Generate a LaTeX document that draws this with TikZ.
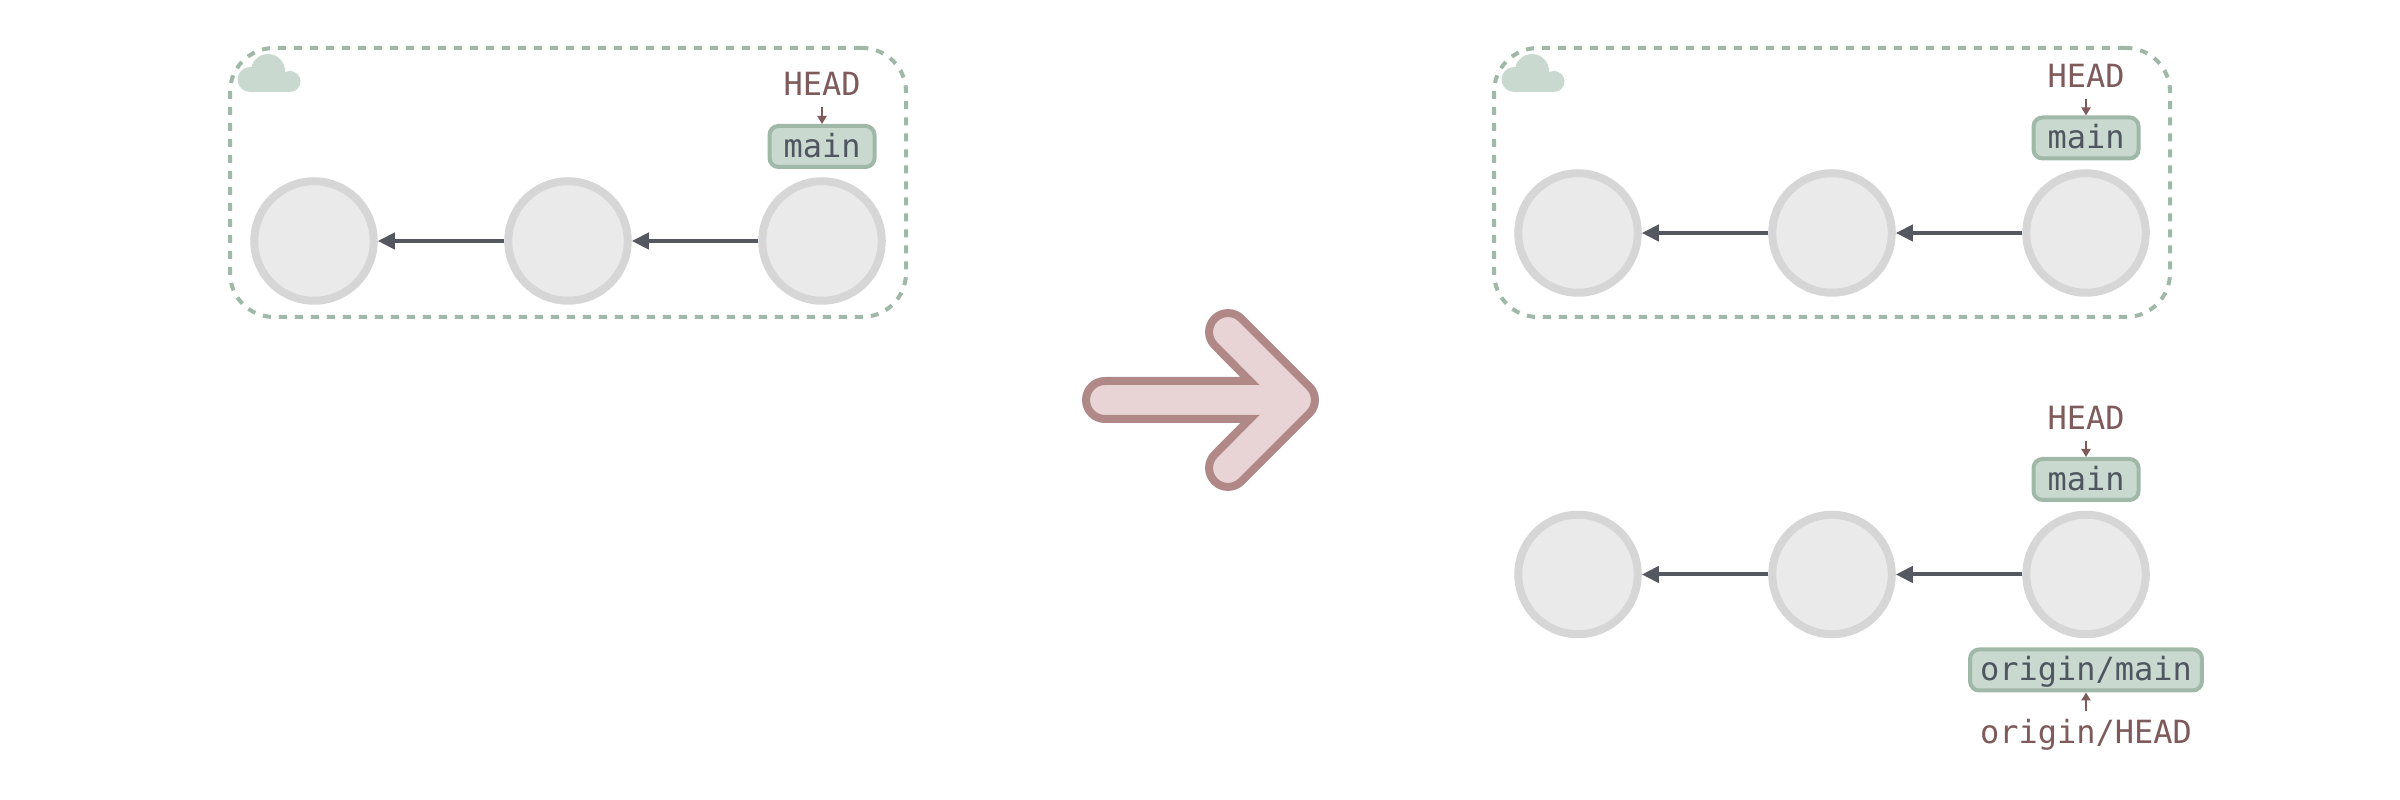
\documentclass[tikz,border=0pt]{standalone}
\usepackage{fontspec}
\setmonofont{DejaVu Sans Mono}
\usetikzlibrary{arrows.meta}
\definecolor{commitfill}{HTML}{EAEAEA}
\definecolor{commitline}{HTML}{D6D6D6}
\definecolor{linkline}{HTML}{555860}
\definecolor{refill}{HTML}{C9D9CF}
\definecolor{refline}{HTML}{A0B8A8}
\definecolor{reftext}{HTML}{4F565F}
\definecolor{headtext}{HTML}{7F5A5A}
\definecolor{bigfill}{HTML}{E8D4D4}
\definecolor{bigline}{HTML}{B08888}
\tikzset{
  commit/.style = {circle, draw=commitline, fill=commitfill, line width=.08cm, minimum size=1.195cm, inner sep=0pt},
  refbox/.style = {draw=refline, fill=refill, line width=.04cm, rounded corners=.09cm, text=reftext,
    font=\ttfamily\fontsize{9.1pt}{11pt}\selectfont, inner xsep=.1cm, inner ysep=0pt,
    minimum width=1.05cm, minimum height=.41cm, text height=.23cm, text depth=.01cm},
  headlabel/.style = {text=headtext, font=\ttfamily\fontsize{9.1pt}{11pt}\selectfont,
    inner xsep=0pt, inner ysep=.1cm, text height=.22cm, text depth=0pt},
  remote/.style = {draw=refline, line width=.04cm, dash pattern=on .08cm off .08cm, rounded corners=.44cm,
    minimum width=6.76cm, minimum height=2.69cm, inner sep=0pt},
  cloudicon/.pic = {
    \fill[refill] (-.18,-.065) circle (.125);
    \fill[refill] (.22,-.085) circle (.105);
    \fill[refill] (0,.02) circle (.17);
    \fill[refill] (-.18,-.19) rectangle (.22,-.06);
  }
}
\begin{document}
\begin{tikzpicture}
\useasboundingbox (0,0) rectangle (24,8);
\node[remote] (remoteA) at (5.68,6.175) {};
\node[remote] (remoteB) at (18.32,6.175) {};
\pic at (2.68,7.27) {cloudicon};
\pic at (15.32,7.27) {cloudicon};
\begin{scope}[every node/.style = {commit}]
\node (a1) at (3.14,5.59) {};
\node (a2) at (5.68,5.59) {};
\node (a3) at (8.22,5.59) {};
\node (b1) at (15.78,5.67) {};
\node (b2) at (18.32,5.67) {};
\node (b3) at (20.86,5.67) {};
\node (c1) at (15.78,2.255) {};
\node (c2) at (18.32,2.255) {};
\node (c3) at (20.86,2.255) {};
\end{scope}
\begin{scope}[every edge/.style = {draw=linkline, line width=.04cm, -{Stealth[length=.17cm,width=.16cm,inset=0pt]}}]
\path (a3) edge (a2);
\path (a2) edge (a1);
\path (b3) edge (b2);
\path (b2) edge (b1);
\path (c3) edge (c2);
\path (c2) edge (c1);
\end{scope}
\begin{scope}[every node/.style = {refbox}]
\node (mainA) at (8.22,6.535) {main};
\node (mainB) at (20.86,6.62) {main};
\node (mainC) at (20.86,3.205) {main};
\node (originC) at (20.86,1.30) {origin/main};
\end{scope}
\begin{scope}[every node/.style = {headlabel}]
\node (headA) at (8.22,7.15) {HEAD};
\node (headB) at (20.86,7.23) {HEAD};
\node (headC) at (20.86,3.81) {HEAD};
\node (headO) at (20.86,.67) {origin/HEAD};
\end{scope}
\begin{scope}[every edge/.style = {draw=headtext, line width=.02cm, -{Stealth[length=.08cm,width=.09cm,inset=0pt]}}]
\path (headA) edge (mainA);
\path (headB) edge (mainB);
\path (headC) edge (mainC);
\path (headO) edge (originC);
\end{scope}
% big arrow
\draw[draw=bigline, fill=bigfill, line width=.08cm, rounded corners=.19cm]
  (11.5,4.19) [sharp corners] -- (12.50,4.19) [rounded corners=.19cm] -- (12.012,4.68) -- (12.28,4.948)
  -- (13.228,4) -- (12.28,3.052) -- (12.012,3.32) [sharp corners] -- (12.50,3.81) [rounded corners=.19cm]
  -- (10.86,3.81) -- (10.86,4.19) -- cycle;
\end{tikzpicture}
\end{document}
